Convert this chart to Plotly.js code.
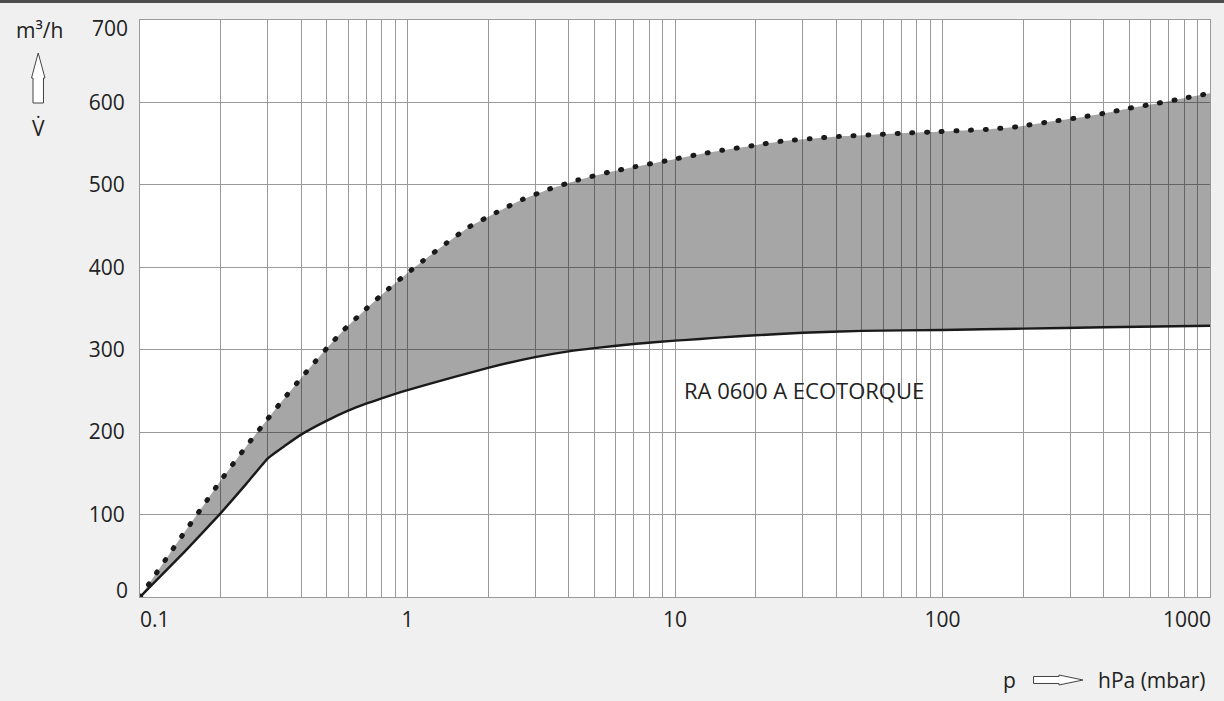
<!DOCTYPE html>
<html>
<head>
<meta charset="utf-8">
<script src="https://cdn.plot.ly/plotly-3.0.1.min.js"></script>
<style>
  html, body { margin: 0; padding: 0; background: #f0f0f0; }
  #chart { position: absolute; left: 0; top: 0; width: 1224px; height: 701px; }
  #topbar { position: absolute; left: 0; top: 0; width: 1224px; height: 3px; background: #4d4d4d; z-index: 5; }
  .dotline .js-line { stroke-linecap: round !important; }
</style>
</head>
<body>
<div id="chart"></div>
<div id="topbar"></div>
<script>
// ---- data ----
const pressureLower = [0.1, 0.15, 0.2, 0.25, 0.3, 0.35, 0.4, 0.5, 0.6, 0.7, 0.8, 0.9, 1, 1.5, 2, 3, 4, 5, 7, 10, 12.4, 15, 20, 30, 50, 100, 200, 400, 1000];
const flowLower     = [0, 58, 101.5, 137.5, 168, 184, 197, 214, 226, 234.5, 241, 246.5, 251, 267, 278, 291, 298, 302, 307, 311, 313, 315, 317.5, 320.5, 322.8, 324, 325.6, 327.2, 329];

const pressureUpper = [0.1, 0.114, 0.13, 0.15, 0.176, 0.2, 0.25, 0.3, 0.35, 0.4, 0.45, 0.5, 0.58, 0.7, 0.85, 1, 1.14, 1.4, 1.7, 2.15, 2.7, 3.4, 4.35, 5.6, 7.1, 9.2, 11.8, 15, 19.5, 25, 32, 42, 53, 69, 89, 115, 148, 190, 245, 315, 405, 500, 640, 825, 1000];
const flowUpper     = [0, 27, 54, 83, 115, 141, 183, 216, 243, 265.5, 285, 302, 324.5, 349.5, 374, 393, 407.6, 429.5, 449, 466.5, 482.5, 495, 506, 515, 522, 529, 536, 542, 547.5, 553, 556, 559, 560.5, 562.5, 564, 565.7, 567.4, 570.5, 576, 581, 587, 593, 599, 606, 611];

const xDecades     = [0.1, 1, 10, 100, 1000];
const xDecadeText  = ['0.1', '1', '10', '100', '1000'];
const yTickVals    = [0, 100, 200, 300, 400, 500, 600, 700];
const yTickText    = ['0', '100', '200', '300', '400', '500', '600', '700'];
const curveLabel   = 'RA 0600 A ECOTORQUE';
const curveLabelAt = [10.6, 251];

// ---- gridline positions (1..9 within each decade) ----
const xGrid = [], xGridText = [];
for (let d = 0; d < xDecades.length - 1; d++) {
  for (let m = 1; m <= 9; m++) {
    xGrid.push(+(xDecades[d] * m).toPrecision(3));
    xGridText.push(m === 1 && d > 0 ? xDecadeText[d] : '');
  }
}
xGrid.push(xDecades[xDecades.length - 1]);
xGridText.push('');
const yMidText = yTickText.map((t, i) => (i === 0 || i === yTickText.length - 1) ? '' : t);

// ---- layout helpers (pixel -> paper) ----
const M = { l: 140, r: 14, t: 20, b: 104 };
const W = 1224 - M.l - M.r, H = 701 - M.t - M.b;
const px = x => (x - M.l) / W;
const py = y => (M.t + H - y) / H;
function pathOf(pts) {
  return 'M ' + pts.map(p => px(p[0]).toFixed(5) + ',' + py(p[1]).toFixed(5)).join(' L ') + ' Z';
}

const font = { family: '"Open Sans", "Noto Sans", sans-serif', size: 21, color: '#222' };
const labelFont = { family: '"Open Sans", "Noto Sans", sans-serif', size: 22, color: '#222' };
const gridColor = '#9a9a9a';

const traces = [
  {
    x: pressureLower, y: flowLower, type: 'scatter', mode: 'lines',
    line: { color: '#1a1a1a', width: 2.4, shape: 'spline', smoothing: 0.4 },
    hoverinfo: 'skip', showlegend: false
  },
  {
    x: pressureUpper, y: flowUpper, type: 'scatter', mode: 'lines',
    line: { color: '#1a1a1a', width: 5, dash: '1px,13.7px', shape: 'spline', smoothing: 0.4 },
    fill: 'tonexty', fillcolor: 'rgba(0,0,0,0.35)',
    hoverinfo: 'skip', showlegend: false
  }
];

const upArrow = [[38.2, 53], [45, 78], [43.5, 78], [43.5, 103], [33, 103], [33, 78], [31.5, 78]];
const rightArrow = [[1083, 680], [1059, 685], [1059, 683.5], [1033.5, 683.5], [1033.5, 676.5], [1059, 676.5], [1059, 675]];

const L = Math.log10;

const layout = {
  width: 1224, height: 701,
  margin: M,
  paper_bgcolor: '#f0f0f0', plot_bgcolor: '#ffffff',
  font: font,
  xaxis: {
    type: 'log', range: [L(xDecades[0]), L(xDecades[4])],
    tickmode: 'array', tickvals: xGrid, ticktext: xGridText,
    showgrid: true, gridcolor: gridColor, gridwidth: 1,
    showline: true, linecolor: gridColor, linewidth: 1, mirror: true,
    ticks: '', ticklabelstandoff: 4, zeroline: false, tickfont: font
  },
  yaxis: {
    range: [0, 700],
    tickmode: 'array', tickvals: yTickVals, ticktext: yMidText,
    showgrid: true, gridcolor: gridColor, gridwidth: 1,
    showline: true, linecolor: gridColor, linewidth: 1, mirror: true,
    ticks: '', ticklabelstandoff: 10, zeroline: false, tickfont: font
  },
  shapes: [
    { type: 'path', xref: 'paper', yref: 'paper', path: pathOf(upArrow), fillcolor: '#ffffff', line: { color: '#444', width: 1 } },
    { type: 'path', xref: 'paper', yref: 'paper', path: pathOf(rightArrow), fillcolor: '#ffffff', line: { color: '#444', width: 1 } }
  ],
  annotations: [
    { x: L(curveLabelAt[0]), y: curveLabelAt[1], xref: 'x', yref: 'y', text: curveLabel, showarrow: false, xanchor: 'left', yanchor: 'middle', font: labelFont },
    // endpoint tick labels, kept inside the frame as in the reference
    { x: L(xDecades[0]), y: 0, xref: 'x', yref: 'paper', text: xDecadeText[0], showarrow: false, xanchor: 'left', yanchor: 'top', xshift: -2, yshift: -6, font: font },
    { x: L(xDecades[4]), y: 0, xref: 'x', yref: 'paper', text: xDecadeText[4], showarrow: false, xanchor: 'right', yanchor: 'top', xshift: 3, yshift: -6, font: font },
    { x: 0, y: yTickVals[0], xref: 'paper', yref: 'y', text: yTickText[0], showarrow: false, xanchor: 'right', yanchor: 'middle', xshift: -10, yshift: 7, font: font },
    { x: 0, y: yTickVals[7], xref: 'paper', yref: 'y', text: yTickText[7], showarrow: false, xanchor: 'right', yanchor: 'middle', xshift: -10, yshift: -8, font: font },
    // axis titles
    { x: px(39), y: py(30), xref: 'paper', yref: 'paper', text: 'm³/h', showarrow: false, xanchor: 'center', yanchor: 'middle', font: font },
    { x: px(38), y: py(128), xref: 'paper', yref: 'paper', text: 'V\u0307', showarrow: false, xanchor: 'center', yanchor: 'middle', font: font },
    { x: px(1009), y: py(680), xref: 'paper', yref: 'paper', text: 'p', showarrow: false, xanchor: 'center', yanchor: 'middle', font: font },
    { x: px(1096), y: py(680), xref: 'paper', yref: 'paper', text: 'hPa (mbar)', showarrow: false, xanchor: 'left', yanchor: 'middle', font: font }
  ]
};

Plotly.newPlot('chart', traces, layout, { displayModeBar: false, staticPlot: true }).then(() => {
  const groups = document.querySelectorAll('.scatterlayer .trace');
  if (groups[1]) groups[1].classList.add('dotline');
});
</script>
</body>
</html>
